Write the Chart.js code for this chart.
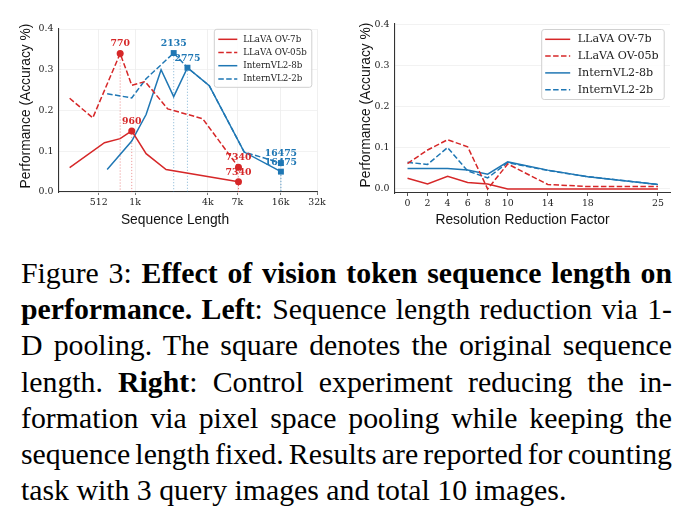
<!DOCTYPE html>
<html>
<head>
<meta charset="utf-8">
<script src="https://cdn.jsdelivr.net/npm/chart.js@4.4.1/dist/chart.umd.min.js"></script>
<style>
  html, body { margin: 0; padding: 0; background: #fff; }
  body { width: 695px; height: 522px; position: relative; overflow: hidden; }
  #leftChart { position: absolute; left: 0; top: 0; }
  #rightChart { position: absolute; left: 345px; top: 0; }
  #caption {
    position: absolute; left: 21px; top: 255px; width: 651px;
    font-family: "Liberation Serif", "Times New Roman", serif;
    font-size: 29.8px; line-height: 36.2px; color: #000;
  }
  #caption .ln { white-space: nowrap; display: block; }
  #caption .ln span.t { display: inline-block; }
</style>
</head>
<body>
<canvas id="leftChart" width="345" height="240"></canvas>
<canvas id="rightChart" width="350" height="240"></canvas>

<div id="caption">
  <div class="ln"><span class="t">Figure 3: <b>Effect of vision token sequence length on</b></span></div>
  <div class="ln"><span class="t"><b>performance. Left</b>: Sequence length reduction via 1-</span></div>
  <div class="ln"><span class="t">D pooling. The square denotes the original sequence</span></div>
  <div class="ln"><span class="t">length. <b>Right</b>: Control experiment reducing the in-</span></div>
  <div class="ln"><span class="t">formation via pixel space pooling while keeping the</span></div>
  <div class="ln"><span class="t">sequence length fixed. Results are reported for counting</span></div>
  <div class="ln last"><span class="t">task with 3 query images and total 10 images.</span></div>
</div>

<script>
// LEFT PANEL DATA: accuracy vs sequence length ###############################

var seqTicks = [512, 1024, 4096, 7168, 16384, 32768];
var seqTickLabels = ["512", "1k", "4k", "7k", "16k", "32k"];

var llava7bLen = [294, 571, 770, 960, 1262, 1847, 7340];
var llava7bAcc = [0.06, 0.121, 0.131, 0.15, 0.094, 0.055, 0.025];
var llava7bMarks = [960, 7340];

var llava05bLen = [294, 457, 770, 960, 1240, 1903, 3705, 7340];
var llava05bAcc = [0.23, 0.182, 0.34, 0.262, 0.271, 0.204, 0.18, 0.061];
var llava05bMarks = [770, 7340];

var intern8bLen = [601, 960, 1262, 1679, 2135, 2775, 4205, 8185, 16475];
var intern8bAcc = [0.055, 0.125, 0.19, 0.30, 0.234, 0.305, 0.261, 0.098, 0.05];
var intern8bMarks = [2775, 16475];

var intern2bLen = [601, 960, 1262, 2135, 2775, 4205, 8185, 16475];
var intern2bAcc = [0.241, 0.231, 0.278, 0.341, 0.305, 0.261, 0.098, 0.071];
var intern2bMarks = [2135, 16475];

// RIGHT PANEL DATA: accuracy vs resolution reduction factor ##################

var factors = [0, 2, 4, 6, 8, 10, 14, 18, 25];
var resLlava7b = [0.026, 0.012, 0.031, 0.016, 0.012, 0.0, 0.0, 0.0, 0.0];
var resLlava05b = [0.062, 0.095, 0.12, 0.103, 0.0, 0.061, 0.011, 0.006, 0.006];
var resIntern8b = [0.05, 0.05, 0.05, 0.046, 0.036, 0.066, 0.046, 0.03, 0.011];
var resIntern2b = [0.065, 0.06, 0.101, 0.044, 0.027, 0.064, 0.045, 0.03, 0.011];

var yTicks = [0, 0.1, 0.2, 0.3, 0.4];

var RED = "#d62728";
var BLUE = "#1f77b4";
var DASH = [5.5, 2.4];
var tickFont = { family: "DejaVu Serif", size: 9.4 };


function pts(xs, ys) {
    return xs.map(function (x, i) { return { x: x, y: ys[i] }; });
}

function makeSet(label, xs, ys, color, dashed, marks, style) {
    marks = marks || [];
    return {
        label: label,
        data: pts(xs, ys),
        marks: marks,
        borderColor: color,
        backgroundColor: color,
        borderWidth: 1.5,
        borderDash: dashed ? DASH : [],
        tension: 0,
        fill: false,
        pointStyle: style || "circle",
        pointBorderWidth: 0,
        pointRadius: function (c) {
            if (c.dataIndex === undefined) return 0;
            if (marks.indexOf(xs[c.dataIndex]) < 0) return 0;
            return style === "rect" ? 4.2 : 3.5;
        },
        pointHoverRadius: 0
    };
}

// dotted guide from each marked point down to the axis
var dropLines = {
    id: "dropLines",
    beforeDatasetsDraw: function (chart) {
        var ctx = chart.ctx;
        var area = chart.chartArea;
        ctx.save();
        chart.data.datasets.forEach(function (ds, di) {
            if (!ds.marks || !ds.marks.length) return;
            var meta = chart.getDatasetMeta(di);
            ds.data.forEach(function (p, i) {
                if (ds.marks.indexOf(p.x) < 0) return;
                var el = meta.data[i];
                ctx.strokeStyle = ds.borderColor;
                ctx.globalAlpha = 0.45;
                ctx.lineWidth = 1;
                ctx.setLineDash([1.2, 1.8]);
                ctx.beginPath();
                ctx.moveTo(el.x, el.y);
                ctx.lineTo(el.x, area.bottom);
                ctx.stroke();
            });
        });
        ctx.restore();
    }
};

// bold number above each marked point
var pointLabels = {
    id: "pointLabels",
    afterDatasetsDraw: function (chart) {
        var ctx = chart.ctx;
        ctx.save();
        ctx.font = "bold 9.3px 'DejaVu Serif'";
        ctx.textAlign = "center";
        ctx.textBaseline = "middle";
        chart.data.datasets.forEach(function (ds, di) {
            if (!ds.marks || !ds.marks.length) return;
            var meta = chart.getDatasetMeta(di);
            ds.data.forEach(function (p, i) {
                if (ds.marks.indexOf(p.x) < 0) return;
                var el = meta.data[i];
                ctx.fillStyle = ds.borderColor;
                ctx.fillText(String(p.x), el.x, el.y - 9.5);
            });
        });
        ctx.restore();
    }
};

// matplotlib-like legend box with line samples
var lineLegend = {
    id: "lineLegend",
    afterDraw: function (chart, args, o) {
        var ctx = chart.ctx;
        ctx.save();
        ctx.beginPath();
        if (ctx.roundRect) ctx.roundRect(o.x, o.y, o.w, o.h, 2.5);
        else ctx.rect(o.x, o.y, o.w, o.h);
        ctx.fillStyle = "rgba(255,255,255,0.85)";
        ctx.fill();
        ctx.strokeStyle = "#d0d0d0";
        ctx.lineWidth = 1;
        ctx.stroke();
        ctx.font = o.fontSize + "px 'DejaVu Serif'";
        ctx.textBaseline = "middle";
        ctx.textAlign = "left";
        chart.data.datasets.forEach(function (ds, i) {
            var y = o.y + o.first + i * o.rowH;
            ctx.strokeStyle = ds.borderColor;
            ctx.lineWidth = 1.5;
            ctx.setLineDash(ds.borderDash || []);
            ctx.beginPath();
            ctx.moveTo(o.x + o.l0, y);
            ctx.lineTo(o.x + o.l1, y);
            ctx.stroke();
            ctx.setLineDash([]);
            ctx.fillStyle = "#222";
            ctx.fillText(ds.label, o.x + o.tx, y);
        });
        ctx.restore();
    }
};

// axis titles placed like the original figure
var axisTitles = {
    id: "axisTitles",
    afterDraw: function (chart, args, o) {
        var ctx = chart.ctx;
        ctx.save();
        ctx.font = "13.8px 'Liberation Sans'";
        ctx.fillStyle = "#111";
        ctx.textAlign = "center";
        ctx.textBaseline = "middle";
        ctx.fillText(o.xText, o.xPos[0], o.xPos[1]);
        ctx.translate(o.yPos[0], o.yPos[1]);
        ctx.rotate(-Math.PI / 2);
        ctx.fillText(o.yText, 0, 0);
        ctx.restore();
    }
};

function yScale(min, max, width) {
    return {
        min: min,
        max: max,
        afterBuildTicks: function (s) {
            s.ticks = yTicks.map(function (v) { return { value: v }; });
        },
        ticks: {
            font: tickFont,
            color: "#222",
            padding: 5.5,
            callback: function (v) { return v.toFixed(1); }
        },
        grid: { color: "#efefef", lineWidth: 0.8, drawTicks: false },
        border: { color: "#333", width: 1.1 },
        afterFit: function (s) { s.width = width; }
    };
}


// LEFT CHART ################################################################

var leftChart = new Chart(document.getElementById("leftChart"), {
    type: "line",
    data: {
        datasets: [
            makeSet("LLaVA OV-7b", llava7bLen, llava7bAcc, RED, false, llava7bMarks, "circle"),
            makeSet("LLaVA OV-05b", llava05bLen, llava05bAcc, RED, true, llava05bMarks, "circle"),
            makeSet("InternVL2-8b", intern8bLen, intern8bAcc, BLUE, false, intern8bMarks, "rect"),
            makeSet("InternVL2-2b", intern2bLen, intern2bAcc, BLUE, true, intern2bMarks, "rect")
        ]
    },
    options: {
        responsive: false,
        animation: false,
        layout: { padding: { left: 0, top: 29, right: 28, bottom: 0 } },
        plugins: {
            legend: { display: false },
            tooltip: { enabled: false },
            lineLegend: { x: 214.3, y: 29.3, w: 97.5, h: 58, first: 10, rowH: 13.2,
                          l0: 4, l1: 23, tx: 29, fontSize: 8.7 },
            axisTitles: { xText: "Sequence Length", xPos: [175, 220],
                          yText: "Performance (Accuracy %)", yPos: [26.5, 106] }
        },
        scales: {
            x: {
                type: "logarithmic",
                min: 240,
                max: 32768,
                afterBuildTicks: function (s) {
                    s.ticks = seqTicks.map(function (v) { return { value: v }; });
                },
                ticks: {
                    font: tickFont,
                    color: "#222",
                    padding: 1.5,
                    autoSkip: false,
                    maxRotation: 0,
                    callback: function (v, i) { return seqTickLabels[i]; }
                },
                grid: { color: "#ececec", lineWidth: 0.8, tickLength: 3, tickColor: "#555" },
                border: { color: "#333", width: 1.1 },
                afterFit: function (s) { s.height = 48; }
            },
            y: yScale(0, 0.4, 59)
        }
    },
    plugins: [dropLines, pointLabels, lineLegend, axisTitles]
});


// RIGHT CHART ###############################################################

var rightChart = new Chart(document.getElementById("rightChart"), {
    type: "line",
    data: {
        datasets: [
            makeSet("LLaVA OV-7b", factors, resLlava7b, RED, false),
            makeSet("LLaVA OV-05b", factors, resLlava05b, RED, true),
            makeSet("InternVL2-8b", factors, resIntern8b, BLUE, false),
            makeSet("InternVL2-2b", factors, resIntern2b, BLUE, true)
        ]
    },
    options: {
        responsive: false,
        animation: false,
        layout: { padding: { left: 0, top: 23.3, right: 25, bottom: 0 } },
        plugins: {
            legend: { display: false },
            tooltip: { enabled: false },
            lineLegend: { x: 196.7, y: 29.5, w: 122.5, h: 70, first: 9.8, rowH: 16.8,
                          l0: 3.5, l1: 28.5, tx: 36, fontSize: 11.1 },
            axisTitles: { xText: "Resolution Reduction Factor", xPos: [177.5, 220],
                          yText: "Performance (Accuracy %)", yPos: [21, 105] }
        },
        scales: {
            x: {
                type: "linear",
                min: -1.25,
                max: 26.2,
                afterBuildTicks: function (s) {
                    s.ticks = factors.map(function (v) { return { value: v }; });
                },
                ticks: {
                    font: tickFont,
                    color: "#222",
                    padding: 1.5,
                    autoSkip: false,
                    maxRotation: 0,
                    callback: function (v) { return String(v); }
                },
                grid: { drawOnChartArea: false, tickLength: 3, tickColor: "#555" },
                border: { color: "#333", width: 1.1 },
                afterFit: function (s) { s.height = 47; }
            },
            y: yScale(-0.0098, 0.404, 50)
        }
    },
    plugins: [lineLegend, axisTitles]
});


// CAPTION: justify each typeset line to the full width #######################

var capWidth = 651;
document.querySelectorAll("#caption .ln").forEach(function (line) {
    if (line.classList.contains("last")) return;
    var span = line.querySelector(".t");
    var natural = span.getBoundingClientRect().width;
    var spaces = (span.textContent.match(/ /g) || []).length;
    if (spaces > 0) {
        span.style.wordSpacing = ((capWidth - natural) / spaces) + "px";
    }
});
</script>
</body>
</html>
